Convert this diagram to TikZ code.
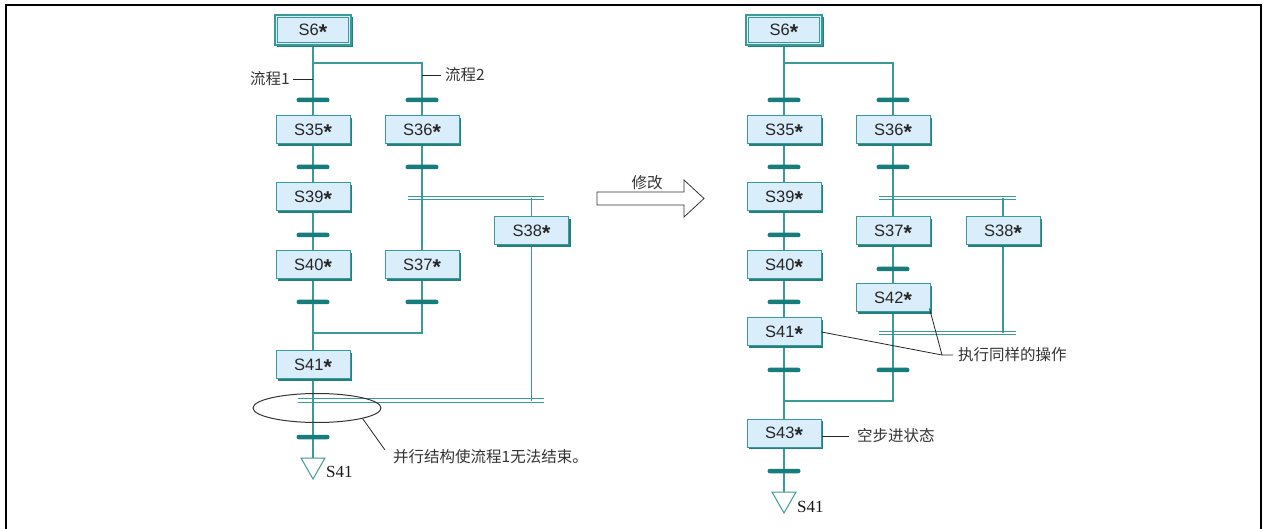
\documentclass[tikz,border=0pt]{standalone}
\usepackage{fontspec}
\setmainfont{Liberation Serif}
\newfontfamily\cjk{Noto Sans CJK SC}
\newfontfamily\boxf{Liberation Sans}
\usetikzlibrary{shadows,backgrounds,shapes.geometric}
\definecolor{ln}{HTML}{3A9A9A}
\definecolor{bardark}{HTML}{177C7C}
\definecolor{bfill}{HTML}{DAEDFA}
\definecolor{shd}{HTML}{23807F}
\tikzset{
 stepbox/.style={draw=ln, line width=1pt, fill=bfill, minimum width=74pt, minimum height=28pt, inner sep=0pt,
   font=\boxf\fontsize{16.5}{16.5}\selectfont, text=black!85,
   drop shadow={shadow xshift=2.2pt, shadow yshift=-2.2pt, fill=shd, opacity=1}},
 initbox/.style={stepbox, minimum width=76pt, minimum height=30pt, line width=1.3pt},
 tbar/.style={fill=bardark, minimum width=33pt, minimum height=4.5pt, inner sep=0pt, rounded corners=2.2pt},
 flow/.style={draw=ln, line width=1.2pt},
 dline/.style={draw=ln, line width=0.9pt},
 lead/.style={draw=black!85, line width=0.8pt},
 note/.style={font=\cjk\fontsize{15.5}{15.5}\selectfont, text=black!80, inner sep=0pt},
 endlab/.style={font=\fontsize{17}{17}\selectfont, text=black!90, inner sep=0pt, anchor=west},
}
\newcommand\sx[1]{#1\smash{\raisebox{-0.22em}{\scalebox{1.3}{\bfseries*}}}}
\begin{document}
\begin{tikzpicture}[x=1pt,y=-1pt]
\useasboundingbox (0,0) rectangle (1267,529);
% frame
\draw[line width=2pt, line join=miter] (6,529) -- (6,5) -- (1261,5) -- (1261,529);

%%%%%%%%%%%%%%%% LEFT DIAGRAM
\node[initbox] (s6l) at (313,30) {\sx{S6}};
\draw[draw=ln, line width=1pt] ([shift={(3,3)}]s6l.north west) rectangle ([shift={(-3,-3)}]s6l.south east);
\node[stepbox] (s35l) at (313,130) {\sx{S35}};
\node[stepbox] (s36l) at (422,130) {\sx{S36}};
\node[stepbox] (s39l) at (313,197) {\sx{S39}};
\node[stepbox] (s38l) at (531.5,231) {\sx{S38}};
\node[stepbox] (s40l) at (313,265) {\sx{S40}};
\node[stepbox] (s37l) at (422,265) {\sx{S37}};
\node[stepbox] (s41l) at (313,365) {\sx{S41}};

\node[tbar] (bl1) at (313,100) {};
\node[tbar] (bl2) at (422,100) {};
\node[tbar] (bl3) at (313,167) {};
\node[tbar] (bl4) at (422,167) {};
\node[tbar] (bl5) at (313,235) {};
\node[tbar] (bl6) at (313,302) {};
\node[tbar] (bl7) at (422,302) {};
\node[tbar] (bl8) at (313,437) {};

\coordinate (brL) at (313,63);
\coordinate (dtL1) at (408,198.3);
\coordinate (dtL2) at (544,198.3);
\coordinate (joinL) at (313,333);
\coordinate (dbL1) at (298,400.5);
\coordinate (dbL2) at (544,400.5);
\coordinate (triL) at (313,458);

\begin{scope}[on background layer]
\draw[flow] (s6l) -- (s35l);
\draw[flow] (s35l) -- (s39l);
\draw[flow] (s39l) -- (s40l);
\draw[flow] (s40l) -- (s41l);
\draw[flow] (s41l.south) -- (triL);
\draw[flow] (brL) -| (s36l.north);
\draw[flow] (s36l) -- (s37l);
\draw[flow] (s37l.south) |- (joinL);
\draw[flow] (s38l.north |- dtL1) -- (s38l.north);
\draw[flow] (s38l.south) -- (s38l.south |- dbL1);
\end{scope}
\draw[dline] ([yshift=1.65pt]dtL1) -- ([yshift=1.65pt]dtL2);
\draw[dline] ([yshift=-1.65pt]dtL1) -- ([yshift=-1.65pt]dtL2);
\draw[dline] ([yshift=1.65pt]dbL1) -- ([yshift=1.65pt]dbL2);
\draw[dline] ([yshift=-1.65pt]dbL1) -- ([yshift=-1.65pt]dbL2);
\draw[flow, line width=1pt] (triL) ++(-12,0) -- ++(24,0) -- ++(-12,21) -- cycle;
\node[endlab] (endl) at (326,472) {S41};

\node[note, anchor=east] (fl1) at (290,79) {流程1};
\draw[lead] ([xshift=3pt]fl1.east) -- (fl1.east -| s35l);
\node[note, anchor=west] (fl2) at (445,75) {流程2};
\draw[lead] (fl2.west -| s36l) -- ([xshift=-4pt]fl2.west);

\node[draw=black!80, line width=1pt, ellipse, minimum width=128pt, minimum height=29pt, inner sep=0pt] (ell) at (317,408) {};
\node[note, anchor=west] (par) at (393,457) {并行结构使流程1无法结束。};
\draw[lead] (ell.south east) -- ([xshift=-8pt,yshift=7pt]par.west);

%%%%%%%%%%%%%%%% ARROW
\node[note] (mod) at (647,183) {修改};
\draw[black!80, line width=0.8pt, fill=white] (597,192) -- (684,192) -- (684,180) -- (704,198.5) -- (684,217) -- (684,205) -- (597,205) -- cycle;

%%%%%%%%%%%%%%%% RIGHT DIAGRAM
\node[initbox] (s6r) at (784,30) {\sx{S6}};
\draw[draw=ln, line width=1pt] ([shift={(3,3)}]s6r.north west) rectangle ([shift={(-3,-3)}]s6r.south east);
\node[stepbox] (s35r) at (784,130) {\sx{S35}};
\node[stepbox] (s36r) at (893,130) {\sx{S36}};
\node[stepbox] (s39r) at (784,197) {\sx{S39}};
\node[stepbox] (s37r) at (893,231) {\sx{S37}};
\node[stepbox] (s38r) at (1003,231) {\sx{S38}};
\node[stepbox] (s40r) at (784,265) {\sx{S40}};
\node[stepbox] (s42r) at (893,298) {\sx{S42}};
\node[stepbox] (s41r) at (784,332) {\sx{S41}};
\node[stepbox] (s43r) at (784,433) {\sx{S43}};

\node[tbar] (br1) at (784,100) {};
\node[tbar] (br2) at (893,100) {};
\node[tbar] (br3) at (784,167) {};
\node[tbar] (br4) at (893,167) {};
\node[tbar] (br5) at (784,235) {};
\node[tbar] (br6) at (893,269) {};
\node[tbar] (br7) at (784,302) {};
\node[tbar] (br8) at (784,370) {};
\node[tbar] (br9) at (893,370) {};
\node[tbar] (br10) at (784,471) {};

\coordinate (brR) at (784,63);
\coordinate (dtR1) at (879,198.3);
\coordinate (dtR2) at (1016,198.3);
\coordinate (dbR1) at (879,333.3);
\coordinate (dbR2) at (1016,333.3);
\coordinate (joinR) at (784,401);
\coordinate (triR) at (784,492);

\begin{scope}[on background layer]
\draw[flow] (s6r) -- (s35r);
\draw[flow] (s35r) -- (s39r);
\draw[flow] (s39r) -- (s40r);
\draw[flow] (s40r) -- (s41r);
\draw[flow] (s41r) -- (s43r);
\draw[flow] (s43r.south) -- (triR);
\draw[flow] (brR) -| (s36r.north);
\draw[flow] (s36r) -- (s37r);
\draw[flow] (s37r) -- (s42r);
\draw[flow] (s42r.south) |- (joinR);
\draw[flow] (s38r.north |- dtR1) -- (s38r.north);
\draw[flow] (s38r.south) -- (s38r.south |- dbR1);
\end{scope}
\draw[dline] ([yshift=1.65pt]dtR1) -- ([yshift=1.65pt]dtR2);
\draw[dline] ([yshift=-1.65pt]dtR1) -- ([yshift=-1.65pt]dtR2);
\draw[dline] ([yshift=1.65pt]dbR1) -- ([yshift=1.65pt]dbR2);
\draw[dline] ([yshift=-1.65pt]dbR1) -- ([yshift=-1.65pt]dbR2);
\draw[flow, line width=1pt] (triR) ++(-12,0) -- ++(24,0) -- ++(-12,21) -- cycle;
\node[endlab] (endr) at (797,507) {S41};

\node[note, anchor=west] (same) at (958,355) {执行同样的操作};
\coordinate (sameK) at (942,355);
\draw[lead] (s41r.east) -- (sameK) -- ([xshift=-5pt]same.west);
\draw[lead] ([shift={(-1,-4)}]s42r.south east) -- (sameK);
\node[note, anchor=west] (empty) at (857,436) {空步进状态};
\draw[lead] (s43r.east |- empty.west) -- ([xshift=-8pt]empty.west);
\end{tikzpicture}
\end{document}
